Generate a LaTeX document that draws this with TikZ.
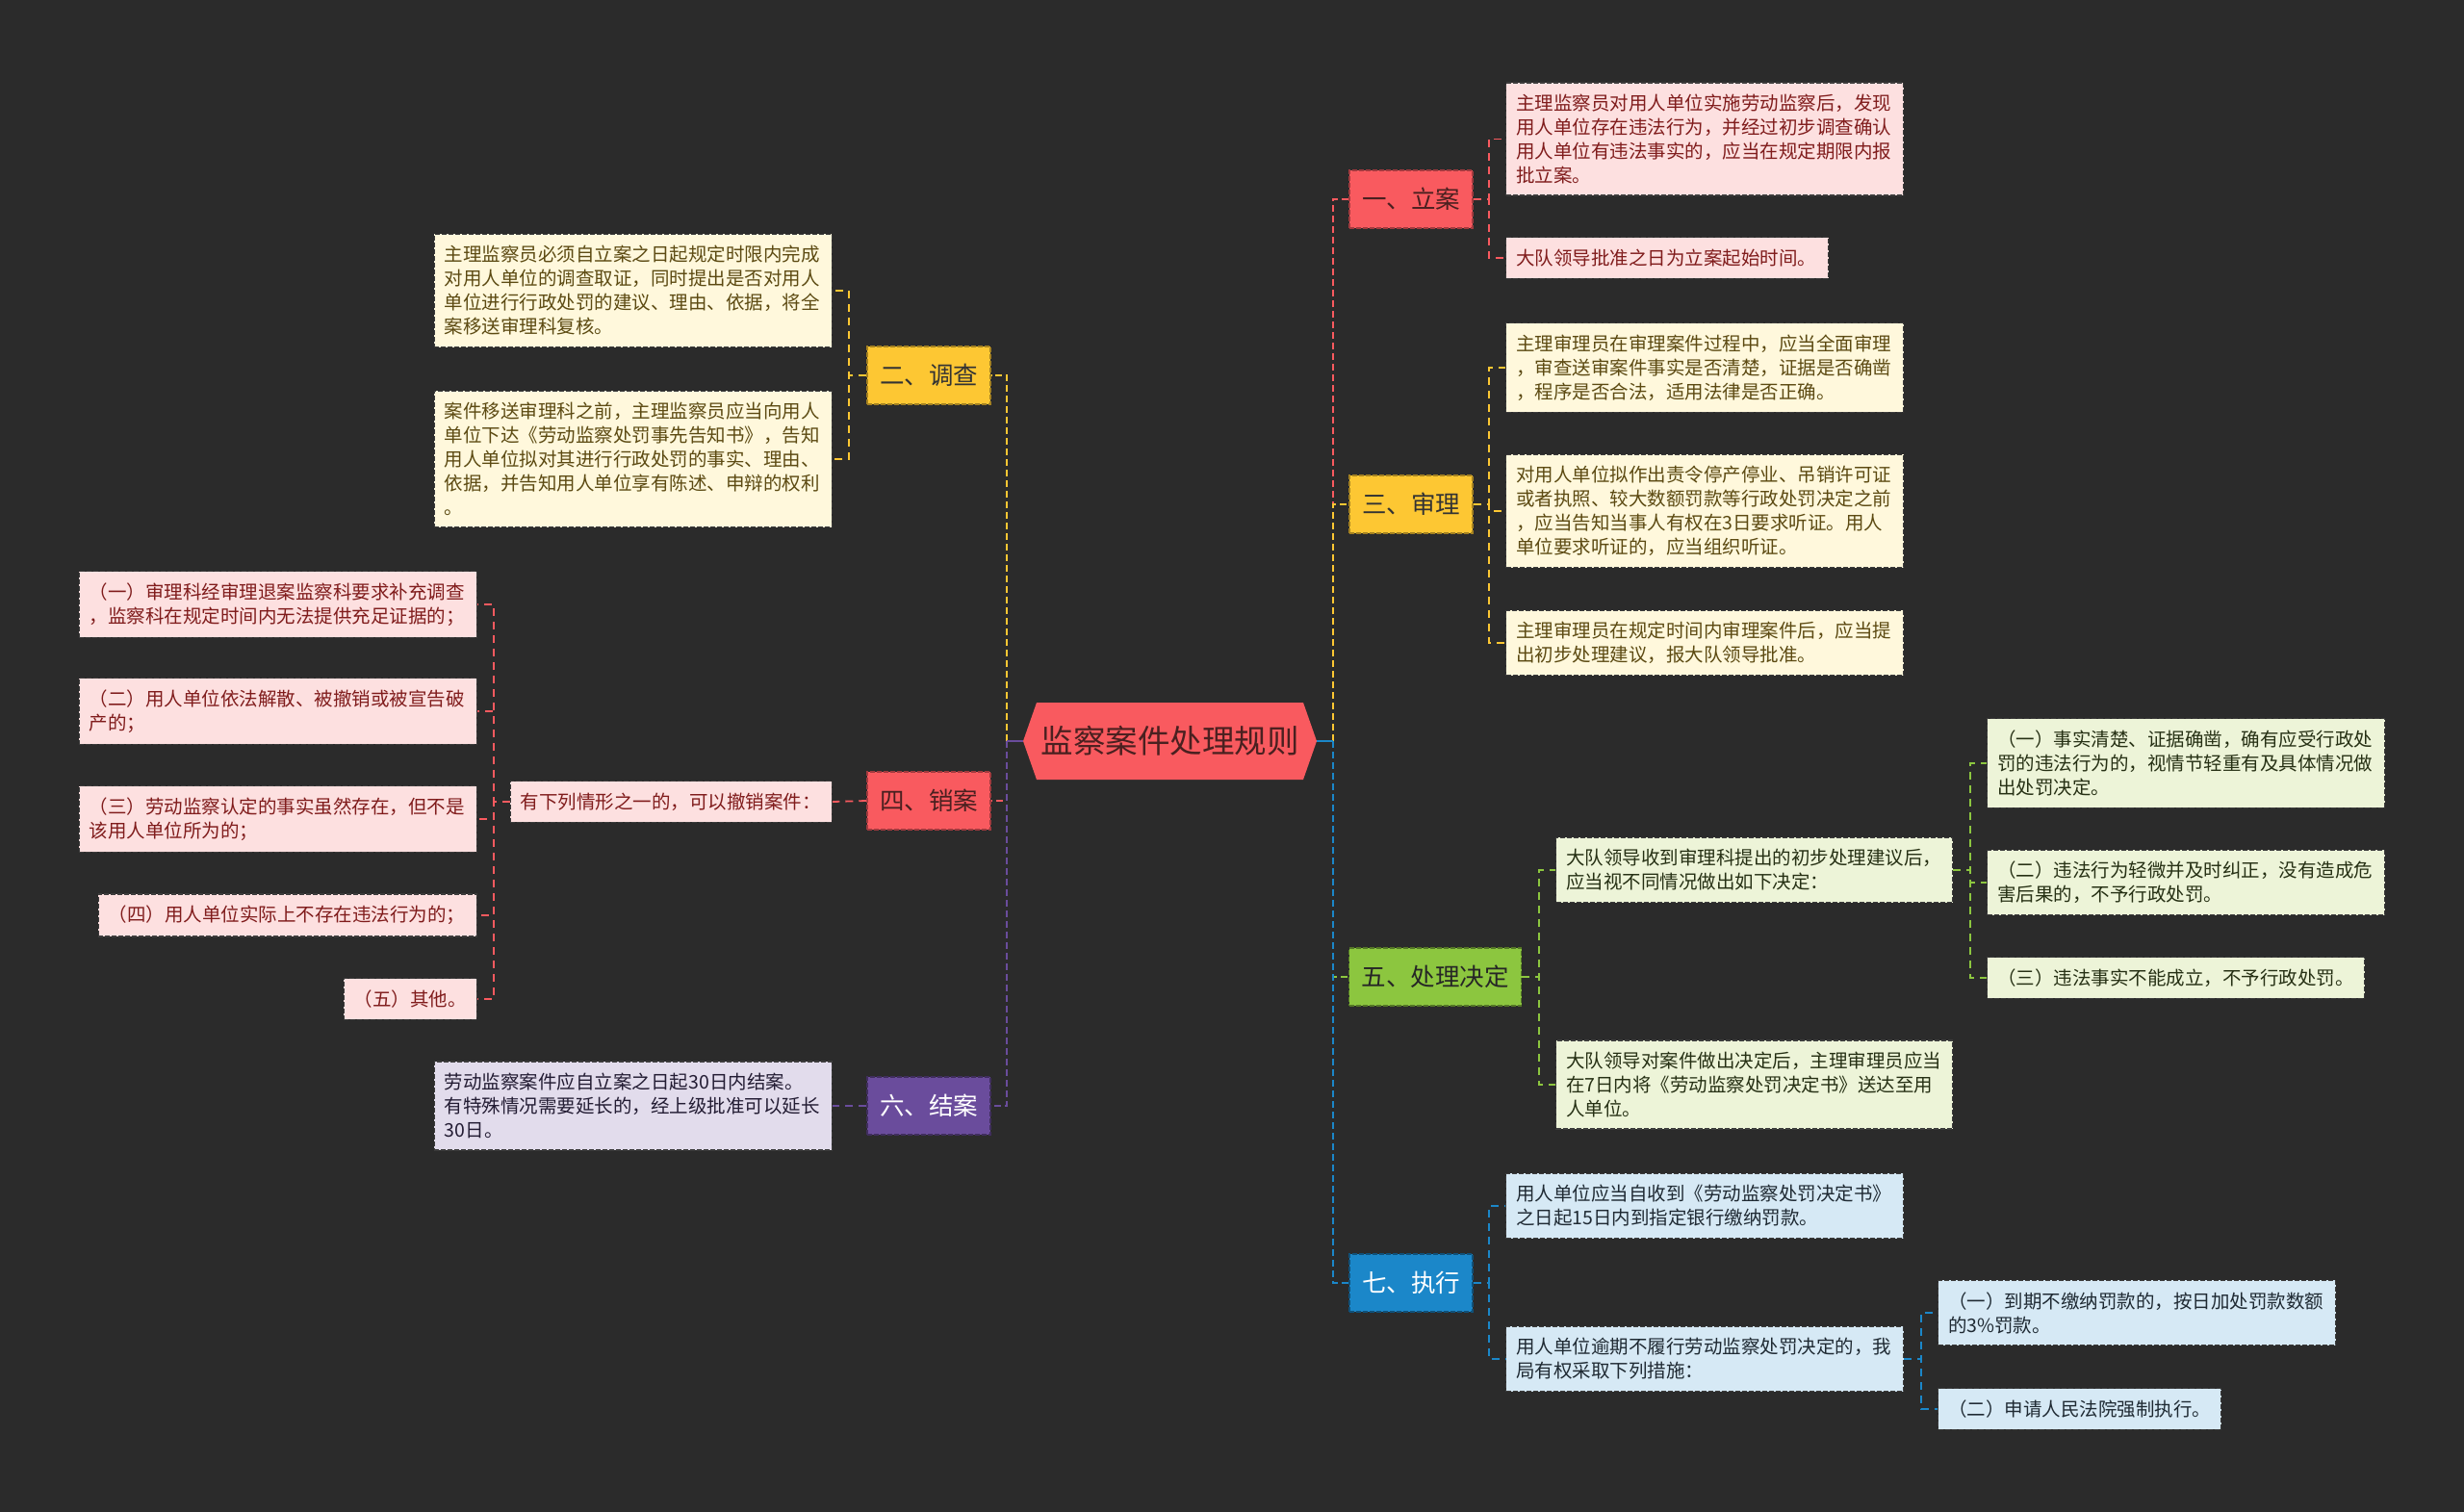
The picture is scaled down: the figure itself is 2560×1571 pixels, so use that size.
\documentclass[tikz,border=0pt]{standalone}
\usepackage{fontspec}
\setmainfont{Noto Sans CJK SC}
\usetikzlibrary{calc}
\definecolor{bg}{HTML}{2B2B2B}
\definecolor{cred}{HTML}{F95A5F}
\definecolor{cyel}{HTML}{FDC733}
\definecolor{cgrn}{HTML}{8CC63F}
\definecolor{cblu}{HTML}{1B87C9}
\definecolor{cpur}{HTML}{6A4C9C}
\definecolor{lred}{HTML}{FDE0E0}
\definecolor{lyel}{HTML}{FFF8DC}
\definecolor{lgrn}{HTML}{EDF4D8}
\definecolor{lblu}{HTML}{D6E9F5}
\definecolor{lpur}{HTML}{E2DCEC}
\definecolor{tred}{HTML}{801C1C}
\definecolor{tyel}{HTML}{5C4A12}
\definecolor{tgrn}{HTML}{263014}
\definecolor{tblu}{HTML}{1F2A33}
\definecolor{tpur}{HTML}{231C33}
\definecolor{troot}{HTML}{4A2020}
\definecolor{leafborder}{HTML}{3C3C3C}
\tikzset{
  leaf/.style={draw=leafborder, dash pattern=on 5pt off 2pt, line width=1.2pt,
    inner xsep=10.5pt, inner ysep=12pt, font=\fontsize{19.5}{25}\selectfont, align=left},
  lfred/.style={leaf, fill=lred, text=tred},
  lfyel/.style={leaf, fill=lyel, text=tyel},
  lfgrn/.style={leaf, fill=lgrn, text=tgrn},
  lfblu/.style={leaf, fill=lblu, text=tblu},
  lfpur/.style={leaf, fill=lpur, text=tpur},
  branchbox/.style={minimum height=60pt, inner xsep=13pt, inner ysep=0pt,
    font=\fontsize{25.5}{30}\selectfont, dash pattern=on 5pt off 2pt, line width=1.5pt},
  brred/.style={branchbox, fill=cred, draw=cred!65!black, text=troot},
  bryel/.style={branchbox, fill=cyel, draw=cyel!65!black, text=black!80},
  brgrn/.style={branchbox, fill=cgrn, draw=cgrn!60!black, text=black!85},
  brblu/.style={branchbox, fill=cblu, draw=cblu!60!black, text=white},
  brpur/.style={branchbox, fill=cpur, draw=cpur!60!black, text=white},
  trunk/.style={line width=2.5pt, dash pattern=on 7pt off 4pt},
  stub/.style={line width=2.5pt},
  twig/.style={line width=1.8pt, dash pattern=on 8pt off 6pt},
}
\begin{document}
\begin{tikzpicture}[x=1pt, y=-1pt]
\fill[bg] (0,0) rectangle (2560,1571);
\useasboundingbox (0,0) rectangle (2560,1571);

% root
\fill[cred] (1063,770) -- (1077,730) -- (1354,730) -- (1368,770) -- (1354,810) -- (1077,810) -- cycle;
\node[font=\fontsize{33.5}{40}\selectfont, text=troot, minimum width=305pt, minimum height=80pt, inner sep=0pt] (root) at (1215.5,770) {监察案件处理规则};
\coordinate (rj) at ($(root.east)+(17,0)$);
\coordinate (lj) at ($(root.west)+(-17,0)$);

% branches
\node[brred] (b1) at (1466,207) {一、立案};
\node[bryel] (b3) at (1466,524) {三、审理};
\node[brgrn] (b5) at (1491,1015) {五、处理决定};
\node[brblu] (b7) at (1466,1333) {七、执行};
\node[bryel] (b2) at (965,390) {二、调查};
\node[brred] (b4) at (965,832) {四、销案};
\node[brpur] (b6) at (965,1149) {六、结案};

% right leaves
\node[lfred, text width=392pt, anchor=west] (l1a) at (1564,144.5) {主理监察员对用人单位实施劳动监察后，发现\\用人单位存在违法行为，并经过初步调查确认\\用人单位有违法事实的，应当在规定期限内报\\批立案。};
\node[lfred, text width=314pt, anchor=west] (l1b) at (1564,268) {大队领导批准之日为立案起始时间。};

\node[lfyel, text width=392pt, anchor=west] (s1) at (1564,382) {主理审理员在审理案件过程中，应当全面审理\\，审查送审案件事实是否清楚，证据是否确凿\\，程序是否合法，适用法律是否正确。};
\node[lfyel, text width=392pt, anchor=west] (s2) at (1564,531) {对用人单位拟作出责令停产停业、吊销许可证\\或者执照、较大数额罚款等行政处罚决定之前\\，应当告知当事人有权在3日要求听证。用人\\单位要求听证的，应当组织听证。};
\node[lfyel, text width=392pt, anchor=west] (s3) at (1564,668) {主理审理员在规定时间内审理案件后，应当提\\出初步处理建议，报大队领导批准。};

\node[lfgrn, text width=391pt, anchor=west] (d1) at (1616,904) {大队领导收到审理科提出的初步处理建议后，\\应当视不同情况做出如下决定：};
\node[lfgrn, text width=392pt, anchor=west] (d1a) at (2064,793) {（一）事实清楚、证据确凿，确有应受行政处\\罚的违法行为的，视情节轻重有及具体情况做\\出处罚决定。};
\node[lfgrn, text width=392pt, anchor=west] (d1b) at (2064,917) {（二）违法行为轻微并及时纠正，没有造成危\\害后果的，不予行政处罚。};
\node[lfgrn, text width=371pt, anchor=west] (d1c) at (2064,1016) {（三）违法事实不能成立，不予行政处罚。};
\node[lfgrn, text width=391pt, anchor=west] (d2) at (1616,1127) {大队领导对案件做出决定后，主理审理员应当\\在7日内将《劳动监察处罚决定书》送达至用\\人单位。};

\node[lfblu, text width=392pt, anchor=west] (e1) at (1564,1253) {用人单位应当自收到《劳动监察处罚决定书》\\之日起15日内到指定银行缴纳罚款。};
\node[lfblu, text width=392pt, anchor=west] (e2) at (1564,1412) {用人单位逾期不履行劳动监察处罚决定的，我\\局有权采取下列措施：};
\node[lfblu, text width=392pt, anchor=west] (e2a) at (2013,1364) {（一）到期不缴纳罚款的，按日加处罚款数额\\的3\%罚款。};
\node[lfblu, text width=273pt, anchor=west] (e2b) at (2013,1464) {（二）申请人民法院强制执行。};

% left leaves
\node[lfyel, text width=392pt, anchor=east] (i1) at (865,302) {主理监察员必须自立案之日起规定时限内完成\\对用人单位的调查取证，同时提出是否对用人\\单位进行行政处罚的建议、理由、依据，将全\\案移送审理科复核。};
\node[lfyel, text width=392pt, anchor=east] (i2) at (865,477) {案件移送审理科之前，主理监察员应当向用人\\单位下达《劳动监察处罚事先告知书》，告知\\用人单位拟对其进行行政处罚的事实、理由、\\依据，并告知用人单位享有陈述、申辩的权利\\。};

\node[lfred, text width=313pt, anchor=east] (f) at (865,833) {有下列情形之一的，可以撤销案件：};
\node[lfred, text width=392pt, anchor=east] (c1) at (496,628) {（一）审理科经审理退案监察科要求补充调查\\，监察科在规定时间内无法提供充足证据的；};
\node[lfred, text width=392pt, anchor=east] (c2) at (496,739) {（二）用人单位依法解散、被撤销或被宣告破\\产的；};
\node[lfred, text width=392pt, anchor=east] (c3) at (496,851) {（三）劳动监察认定的事实虽然存在，但不是\\该用人单位所为的；};
\node[lfred, text width=372pt, anchor=east] (c4) at (496,951) {（四）用人单位实际上不存在违法行为的；};
\node[lfred, text width=117pt, anchor=east] (c5) at (496,1038) {（五）其他。};

\node[lfpur, text width=392pt, anchor=east] (j1) at (865,1149) {劳动监察案件应自立案之日起30日内结案。\\有特殊情况需要延长的，经上级批准可以延长\\30日。};

% trunk connectors (right)
\draw[trunk, cred] (rj) |- (b1.west);
\draw[trunk, cyel] (rj) |- (b3.west);
\draw[trunk, cgrn] (rj) |- (b5.west);
\draw[trunk, cblu] (rj) |- (b7.west);
\draw[stub, cblu] (root.east) -- (rj);
% trunk connectors (left)
\draw[trunk, cyel] (lj) |- (b2.east);
\draw[trunk, cred] (lj) |- (b4.east);
\draw[trunk, cpur] (lj) |- (b6.east);
\draw[stub, cpur] (root.west) -- (lj);

% twigs right
\draw[twig, cred] (b1.east) -- ++(16,0) |- (l1a.west);
\draw[twig, cred] (b1.east) -- ++(16,0) |- (l1b.west);
\draw[twig, cyel] (b3.east) -- ++(16,0) |- (s1.west);
\draw[twig, cyel] (b3.east) -- ++(16,0) |- (s2.west);
\draw[twig, cyel] (b3.east) -- ++(16,0) |- (s3.west);
\draw[twig, cgrn] (b5.east) -- ++(18,0) |- (d1.west);
\draw[twig, cgrn] (b5.east) -- ++(18,0) |- (d2.west);
\draw[twig, cgrn] (d1.east) -- ++(18,0) |- (d1a.west);
\draw[twig, cgrn] (d1.east) -- ++(18,0) |- (d1b.west);
\draw[twig, cgrn] (d1.east) -- ++(18,0) |- (d1c.west);
\draw[twig, cblu] (b7.east) -- ++(16,0) |- (e1.west);
\draw[twig, cblu] (b7.east) -- ++(16,0) |- (e2.west);
\draw[twig, cblu] (e2.east) -- ++(18,0) |- (e2a.west);
\draw[twig, cblu] (e2.east) -- ++(18,0) |- (e2b.west);
% twigs left
\draw[twig, cyel] (b2.west) -- ++(-18,0) |- (i1.east);
\draw[twig, cyel] (b2.west) -- ++(-18,0) |- (i2.east);
\draw[twig, cred] (b4.west) -- (f.east);
\draw[twig, cred] (f.west) -- ++(-17,0) |- (c1.east);
\draw[twig, cred] (f.west) -- ++(-17,0) |- (c2.east);
\draw[twig, cred] (f.west) -- ++(-17,0) |- (c3.east);
\draw[twig, cred] (f.west) -- ++(-17,0) |- (c4.east);
\draw[twig, cred] (f.west) -- ++(-17,0) |- (c5.east);
\draw[twig, cpur] (b6.west) -- (j1.east);
\end{tikzpicture}
\end{document}
